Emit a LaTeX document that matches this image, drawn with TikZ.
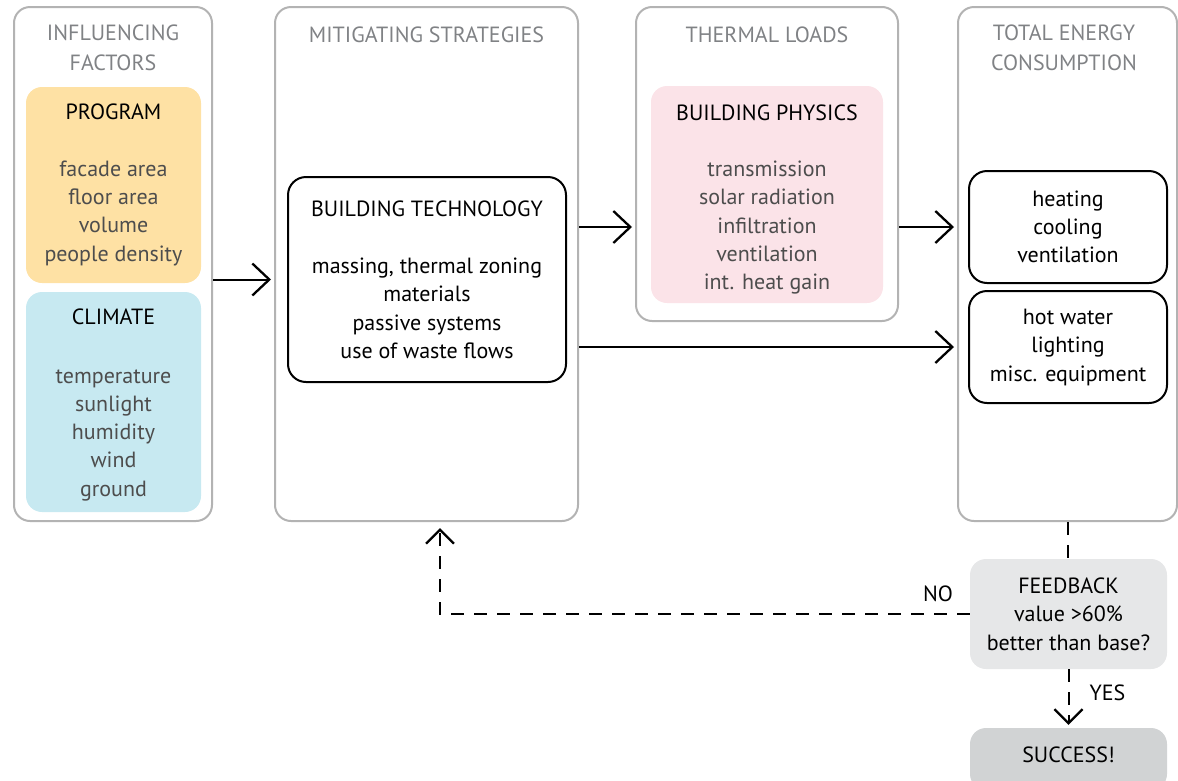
\documentclass[tikz,border=0pt]{standalone}
\usepackage{fontspec}
\setmainfont{PT Sans}
\usetikzlibrary{arrows.meta}

\definecolor{framegray}{HTML}{B3B3B3}
\definecolor{titlegray}{HTML}{808285}
\definecolor{itemgray}{HTML}{4D4D4D}
\definecolor{programfill}{HTML}{FEE1A4}
\definecolor{climatefill}{HTML}{C7E9F1}
\definecolor{physicsfill}{HTML}{FBE3E8}
\definecolor{feedbackfill}{HTML}{E6E7E8}
\definecolor{successfill}{HTML}{D1D3D4}

\begin{document}
\begin{tikzpicture}[x=1pt,y=-1pt,
    font=\fontsize{22}{28.3}\selectfont,
    stage/.style={draw=framegray,line width=2pt,rounded corners=16pt,inner sep=0pt},
    stagetitle/.style={text=titlegray,align=center,font=\fontsize{22}{30}\selectfont},
    factorbox/.style={rounded corners=16pt,align=center,inner sep=0pt,text=itemgray},
    techbox/.style={draw,line width=2pt,rounded corners=18pt,align=center,inner sep=0pt},
    flowarrow/.style={line width=2pt,shorten >=3pt,
      -{Straight Barb[length=17pt,width=32pt,line width=2.3pt]}},
    checkline/.style={line width=2pt,dash pattern=on 13pt off 10pt,
      -{Straight Barb[length=14pt,width=28pt,line width=2.3pt]}}]

  \useasboundingbox (0,0) rectangle (1178,780);

  % stages
  \begin{scope}[every node/.style={stage}]
    \node[minimum width=198pt,minimum height=514pt] (factors) at (113,264)    {};
    \node[minimum width=303pt,minimum height=514pt] (mitig)   at (426.5,264)  {};
    \node[minimum width=262pt,minimum height=314pt] (loads)   at (767,164)    {};
    \node[minimum width=219pt,minimum height=514pt] (total)   at (1067.5,264) {};
  \end{scope}

  \begin{scope}[every node/.style={stagetitle}]
    \node (factorstitle) at (113,48)   {INFLUENCING\\FACTORS};
    \node (mitigtitle)   at (426.5,35) {MITIGATING STRATEGIES};
    \node (loadstitle)   at (767,35)   {THERMAL LOADS};
    \node (totaltitle)   at (1064,48)  {TOTAL ENERGY\\CONSUMPTION};
  \end{scope}

  % contents
  \begin{scope}[every node/.style={factorbox}]
    \node[fill=programfill,minimum width=175pt,minimum height=196pt] (program) at (113.5,185)
      {\textcolor{black}{PROGRAM}\\[28pt]facade area\\floor area\\volume\\people density};
    \node[fill=climatefill,minimum width=175pt,minimum height=220pt] (climate) at (113.5,402) {};
    \node (climatetext) at ([yshift=-3pt]climate.center)
      {\textcolor{black}{CLIMATE}\\[30pt]temperature\\sunlight\\humidity\\wind\\ground};
    \node[fill=physicsfill,minimum width=232pt,minimum height=217pt] (physics) at (767,194.5) {};
    \node (physicstext) at ([yshift=-5pt]physics.center)
      {\textcolor{black}{BUILDING PHYSICS}\\[28pt]transmission\\solar radiation\\infiltration\\ventilation\\int. heat gain};
  \end{scope}

  \begin{scope}[every node/.style={techbox}]
    \node[minimum width=278pt,minimum height=205pt] (tech) at (427,279.5)
      {BUILDING TECHNOLOGY\\[29pt]massing, thermal zoning\\materials\\passive systems\\use of waste flows};
    \node[minimum width=198pt,minimum height=112pt] (heat) at (1068,227)
      {heating\\cooling\\ventilation};
    \node[minimum width=198pt,minimum height=112pt,text depth=4pt] (misc) at (1068,347)
      {hot water\\lighting\\misc. equipment};
  \end{scope}

  \begin{scope}[every node/.style={rounded corners=16pt,align=center,inner sep=0pt}]
    \node[fill=feedbackfill,minimum width=197pt,minimum height=110pt] (feedback) at (1068.5,614)
      {FEEDBACK\\value >60\%\\better than base?};
    \node[fill=successfill,minimum width=197pt,minimum height=62pt,text depth=8pt] (success) at (1068.5,759)
      {SUCCESS!};
  \end{scope}

  \coordinate (back) at (440,0);

  % connectors
  \draw[flowarrow] (factors.east |- tech) -- (mitig.west |- tech);
  \draw[flowarrow] (mitig.east |- heat) -- (loads.west |- heat);
  \draw[flowarrow] (loads.east |- heat) -- (total.west |- heat);
  \draw[flowarrow] (mitig.east |- misc) -- (total.west |- misc);

  \draw[checkline,-] (total.south) -- (total.south |- feedback.north);
  \draw[checkline,shorten >=6pt] (feedback.west)
    -- node[pos=0.06,above=9pt,inner sep=2pt] {NO} (feedback.west -| back)
    -- (back |- mitig.south);
  \draw[checkline,shorten >=3pt] (feedback.south)
    -- node[pos=0.4,right=18pt,inner sep=2pt] {YES} (success.north);

\end{tikzpicture}
\end{document}
